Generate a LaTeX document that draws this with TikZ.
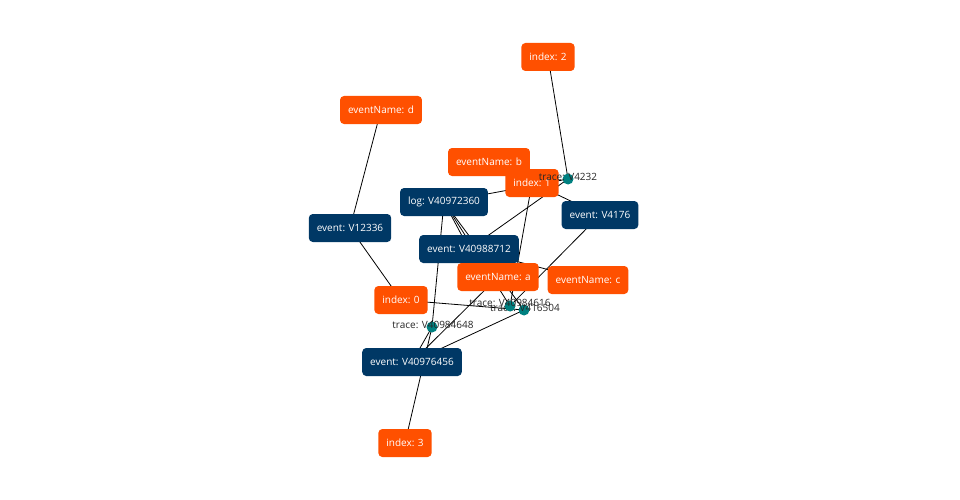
\documentclass[tikz,border=0pt]{standalone}
\usepackage{fontspec}
\setmainfont{Open Sans}
\usetikzlibrary{backgrounds}
\definecolor{evorange}{RGB}{255,80,0}
\definecolor{evblue}{RGB}{0,56,101}
\definecolor{evteal}{RGB}{0,128,128}
\begin{document}
\begin{tikzpicture}[x=1pt,y=-1pt,
  attr/.style={fill=evorange,rounded corners=4pt,text=white,minimum height=28pt,inner xsep=8pt,font=\fontsize{10}{12}\selectfont},
  obj/.style={attr,fill=evblue},
  tdot/.style={circle,fill=evteal,minimum size=11pt,inner sep=0pt},
  tlabel/.style={text=black!85,inner sep=0pt,font=\fontsize{10}{12}\selectfont}]
\useasboundingbox (0,0) rectangle (960,500);
%
\node[attr](i2) at (548,57){index: 2};
\node[attr](eNd) at (381,110){eventName: d};
\node[attr](eNb) at (489,162){eventName: b};
\node[attr](i1) at (532,183){index: 1};
\node[obj](log) at (444,202){log: V40972360};
\node[obj](e4176) at (600,215){event: V4176};
\node[obj](e12336) at (350,228){event: V12336};
\node[obj](e88712) at (469,249){event: V40988712};
\node[attr](eNa) at (498,277){eventName: a};
\node[attr](eNc) at (588,280){eventName: c};
\node[attr](i0) at (401,300){index: 0};
\node[obj](e76456) at (412,362){event: V40976456};
\node[attr](i3) at (405,443){index: 3};
%
\node[tdot](t4232) at (568,179){};
\node[tlabel] at (568,177){trace: V4232};
\node[tdot](t648) at (432,327){};
\node[tlabel] at (433,325){trace: V40984648};
\node[tdot](t504) at (524,310){};
\node[tlabel] at (525,308){trace: V416504};
\node[tdot](t616) at (510,306){};
\node[tlabel] at (510,303){trace: V40984616};
%
\begin{pgfonlayer}{background}
\foreach \a/\b in {log/t4232,log/t616,log/t504,log/t648,log/e88712,i2/t4232,eNd/e12336,e12336/i0,
  i0/t504,e88712/t4232,e88712/eNc,e4176/t616,eNb/e4176,i1/t616,e76456/eNa,e76456/t504,e76456/t648,i3/t648}
  {\draw[line width=0.8pt](\a.center)--(\b.center);}
\end{pgfonlayer}
\end{tikzpicture}
\end{document}
